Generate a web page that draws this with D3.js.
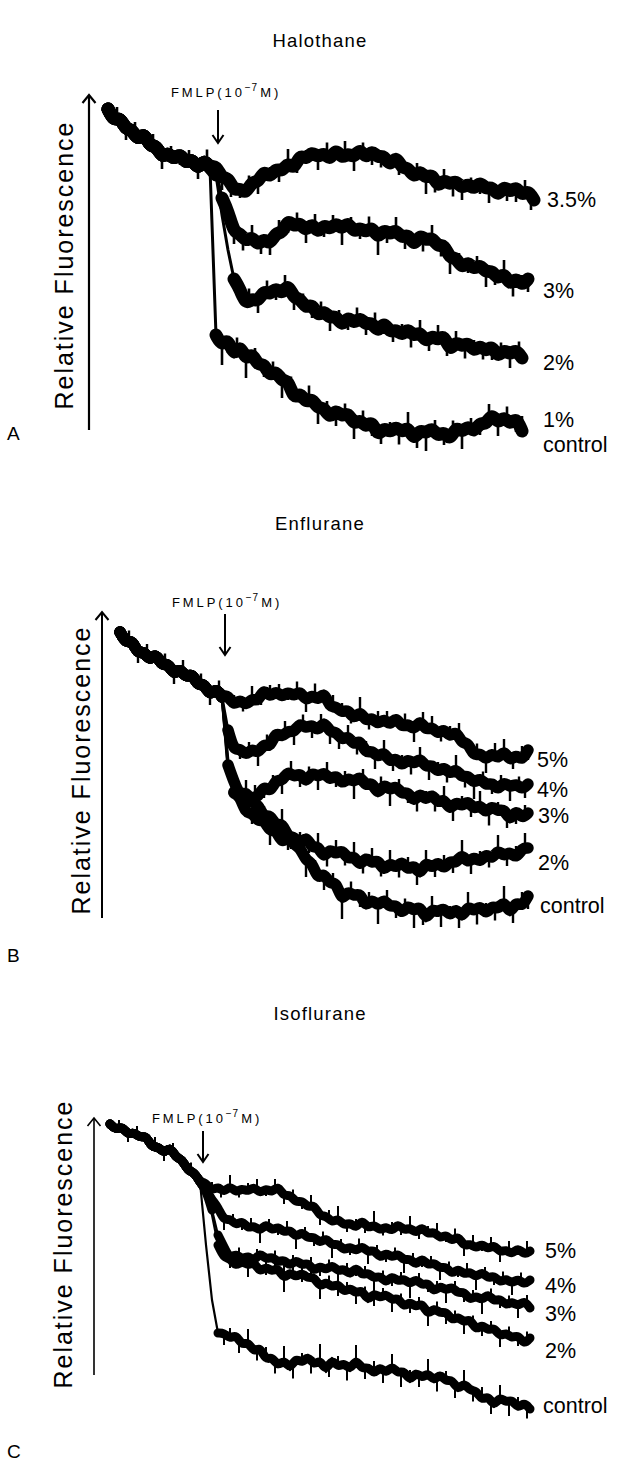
<!DOCTYPE html>
<html><head><meta charset="utf-8">
<script src="https://cdn.jsdelivr.net/npm/d3@7"></script>
<style>
html,body{margin:0;padding:0;background:#fff;}
svg{display:block;}
text{font-family:"Liberation Sans",Arial,Helvetica,sans-serif;fill:#000;}
</style></head>
<body>
<svg id="chart" width="638" height="1466"></svg>
<script>
// ---- DATA (time in sample steps of 6 units; fluorescence in arbitrary units) ----
const STEP = 6;
const panelTitles = ["Halothane", "Enflurane", "Isoflurane"];
const panelLetters = ["A", "B", "C"];
const stimulusLabel = "FMLP(10";
const stimulusExp = "−7";
const stimulusUnit = "M)";

// Halothane (A)
const haloPre = [321,309,313,300,301,289,298,283,285,272,278,270,277,266,272,260,271,262];
const halo35 = [265,251,253,239,242,236,249,247,260,252,262,258,268,260,276,270,279,272,278,269,282,271,277,272,282,271,280,272,275,263,275,261,263,252,260,251,257,242,251,245,250,241,247,240,249,240,244,233,245,237,244,234,240,230];
const halo3 = [260,232,219,197,197,188,194,184,192,185,198,196,211,203,208,198,208,196,206,200,208,200,209,197,203,197,204,191,201,195,201,191,197,183,196,189,193,183,186,171,173,161,169,160,166,157,160,150,158,144,153,144,151];
const halo2 = [255,215,180,151,141,125,132,128,140,135,143,135,147,131,132,121,127,113,120,111,115,103,114,106,113,105,108,97,109,97,101,94,102,93,99,87,95,89,96,78,89,83,88,78,85,78,85,72,81,75,81,72];
const halo1 = [95,84,92,73,86,69,78,64,67,53,60,48,51,30,38,27,32,21,23,11,21,13,18,5,11,2,10,-7,3,-3,4,-3,4,-11,1,-4,3,-7,-1,-11,4,-3,5,-3,8,5,17,6,14,5,13,-1];
const haloLabels = ["3.5%", "3%", "2%", "1%|control"];
// noise spikes: [sample index, excursion]
const haloPreSpikes = [[1.5,12],[3,-10],[4.5,13],[6,-9],[7.5,12],[9,-11],[10.5,10],[12,-12],[13.5,11],[15,-9],[16.5,14]];
const halo35Spikes = [[19,-11],[20.5,-13],[22,-10],[23.5,12],[25,-11],[27,11],[28.5,-12],[30,13],[31.5,-11],[33,10],[35,-12],[36.5,14],[38,-10],[39.5,15],[41,-13],[42.5,11],[44,-15],[45.5,-11],[47,12],[48.5,-13],[50,-10],[51.5,11],[53,-15],[54.5,-12],[56,10],[57.5,-14],[59,-11],[60.5,9],[62,-13],[63.5,-15],[65,11],[66.5,-12],[68,-16],[69.5,13],[70.5,-15]];
const halo3Spikes = [[21,-11],[22.5,-13],[24,11],[25.5,-12],[27,-10],[28.5,13],[30,-14],[31.5,12],[33,-11],[34.5,14],[36,-13],[37.5,11],[39,-15],[40.5,10],[42,-12],[43.5,13],[45,-16],[46.5,-11],[48,12],[49.5,-13],[51,10],[52.5,-14],[54,12],[55.5,-11],[57,-15],[58.5,10],[60,-12],[61.5,11],[63,-14],[64.5,-10],[66,12],[67.5,-15],[69,11],[70,-13]];
const halo2Spikes = [[22,-12],[23.5,13],[25,-11],[26.5,12],[28,-13],[29.5,14],[31,-11],[32.5,10],[34,-15],[35.5,12],[37,-12],[38.5,11],[40,-14],[41.5,13],[43,-10],[44.5,15],[46,-13],[47.5,-11],[49,12],[50.5,-15],[52,11],[53.5,-12],[55,16],[56.5,-13],[58,10],[59.5,-14],[61,12],[62.5,-11],[64,-15],[65.5,11],[67,-13],[68.5,12]];
const halo1Spikes = [[19,-19],[20,-15],[21.5,13],[23,-17],[24.5,11],[26,-14],[27.5,12],[29,-16],[30.5,13],[32,-11],[33.5,15],[35,-15],[36.5,12],[38,-17],[39.5,11],[41,-14],[42.5,13],[44,-16],[45.5,-12],[47,11],[48.5,-15],[50,14],[51.5,-13],[53,-17],[54.5,12],[56,-14],[57.5,13],[59,-16],[60.5,11],[62,-13],[63.5,15],[65,-12],[66.5,14],[68,-15],[69,15]];

// Enflurane (B)
const enfPre = [286,275,278,264,267,257,265,252,255,243,250,240,245,232,235,222,230,221];
const enf5 = [223,212,219,212,220,216,230,220,228,220,227,221,228,216,224,217,227,210,212,205,209,198,208,196,201,193,200,192,202,190,195,187,199,187,192,183,190,180,188,174,176,161,166,157,166,158,169,156,164,157,168];
const enf4 = [188,167,170,162,170,164,175,170,187,180,188,185,196,189,194,186,198,185,187,177,183,172,179,164,168,160,167,155,161,151,160,153,161,150,154,145,152,143,150,140,143,134,141,132,136,127,137,130,135,128,134];
const enf3 = [158,126,122,112,122,120,133,125,139,136,148,140,146,134,147,140,147,137,144,133,141,135,143,131,137,122,135,127,133,123,127,115,126,117,125,114,120,107,117,111,118,108,114,104,113,106,110,96,109,99,105];
const enf2 = [153,136,122,127,115,114,100,104,91,96,80,82,72,83,69,73,59,70,63,69,58,63,51,62,54,59,46,56,49,58,47,54,42,57,49,57,48,58,54,65,54,62,55,65,58,69,61,67,59,70,70];
const enfC = [148,125,122,104,106,96,99,86,89,74,82,73,71,57,56,38,46,33,37,16,28,21,26,10,20,11,20,10,14,3,14,6,13,-3,10,5,11,1,11,-1,13,6,13,3,13,8,18,3,17,11,22];
const enfLabels = ["5%", "4%", "3%", "2%", "control"];
const enfPreSpikes = [[1.5,11],[3,-9],[4.5,12],[6,-10],[7.5,11],[9,-9],[10.5,13],[12,-10],[13.5,11],[15,-9],[16.5,12]];
const enf5Spikes = [[19,11],[20.5,-9],[22,12],[23.5,-10],[25,13],[26.5,10],[28,-9],[29.5,12],[31,-10],[32.5,14],[34,-11],[35.5,12],[37,10],[38.5,-9],[40,13],[41.5,-10],[43,14],[44.5,11],[46,-9],[47.5,12],[49,-11],[50.5,13],[52,10],[53.5,-10],[55,12],[56.5,14],[58,-9],[59.5,11],[61,-12],[62.5,13],[64,10],[65.5,-11],[67,15],[68,-10]];
const enf4Spikes = [[20,-11],[21.5,10],[23,-12],[24.5,11],[26,-10],[27.5,13],[29,-12],[30.5,11],[32,-14],[33.5,12],[35,-11],[36.5,-13],[38,10],[39.5,-12],[41,13],[42.5,-15],[44,11],[45.5,-11],[47,12],[48.5,-13],[50,10],[51.5,-14],[53,11],[54.5,-12],[56,13],[57.5,-11],[59,-15],[60.5,10],[62,-12],[63.5,11],[65,-13],[66.5,10],[67.5,-11]];
const enf3Spikes = [[21,-11],[22.5,12],[24,-13],[25.5,11],[27,-12],[28.5,13],[30,-15],[31.5,11],[33,-12],[34.5,14],[36,-13],[37.5,10],[39,-16],[40.5,12],[42,-11],[43.5,13],[45,-15],[46.5,11],[48,-12],[49.5,-14],[51,10],[52.5,-13],[54,12],[55.5,-15],[57,11],[58.5,-12],[60,13],[61.5,-16],[63,10],[64.5,-13],[66,-15],[67.5,11]];
const enf2Spikes = [[21,11],[22.5,-10],[24,12],[25.5,-11],[27,13],[28.5,-12],[30,14],[31.5,-11],[33,12],[34.5,-13],[36,15],[37.5,-11],[39,13],[40.5,-12],[42,16],[43.5,-11],[45,12],[46.5,-13],[48,14],[49.5,-15],[51,11],[52.5,-12],[54,15],[55.5,-11],[57,13],[58.5,-14],[60,12],[61.5,-11],[63,14],[64.5,-12],[66,13],[67.5,15]];
const enfCSpikes = [[22,-12],[23.5,10],[25,-13],[26.5,11],[28,-14],[29.5,12],[31,-16],[32.5,11],[34,-18],[35.5,10],[37,-17],[38.5,12],[40,-15],[41.5,11],[43,-17],[44.5,13],[46,-14],[47.5,11],[49,-16],[50.5,-12],[52,12],[53.5,-17],[55,11],[56.5,-15],[58,13],[59.5,-16],[61,12],[62.5,-13],[64,14],[65.5,-15],[67,15],[68,-13]];

// Isoflurane (C)
const isoPre = [251,245,249,240,243,237,240,227,229,221,229,217,216,204,203,193];
const iso5 = [192,184,189,182,190,182,187,183,189,181,187,182,190,178,181,172,175,167,171,158,160,152,157,149,153,146,156,146,151,144,149,143,152,144,148,141,149,140,144,136,141,133,140,128,132,126,132,125,131,122,126,120,128,120,124];
const iso4 = [185,175,168,154,157,149,155,146,150,143,152,144,149,142,146,137,144,136,139,131,138,129,132,124,129,123,130,122,126,116,123,117,122,114,117,109,118,109,113,106,109,100,107,100,104,97,104,96,100,92,97,91,97,90,95];
const iso3 = [185,165,140,128,116,122,115,120,113,123,115,119,112,116,108,116,109,113,103,110,104,111,103,107,99,109,99,103,96,100,91,100,93,97,90,97,89,93,82,90,84,89,81,84,74,80,74,82,73,77,69,74,68,75,67];
const iso2 = [185,160,130,117,117,108,115,109,114,102,109,103,108,95,104,97,103,96,99,87,94,87,92,82,88,81,86,73,83,76,82,74,78,67,74,67,73,59,68,61,64,54,59,52,57,44,51,44,48,38,43,36,41,30,37];
const isoC = [130,75,42,42,36,41,29,34,22,29,14,19,8,16,5,18,11,20,9,16,3,17,7,13,4,17,5,9,0,9,1,10,1,5,-7,4,-4,3,-7,2,-7,-4,-16,-7,-16,-15,-26,-20,-32,-21,-28,-24,-34,-27,-34];
const isoLabels = ["5%", "4%", "3%", "2%", "control"];
const isoPreSpikes = [[1.5,8],[3,-7],[4.5,9],[6,-8],[7.5,10],[9,-7],[10.5,9],[12,-8],[13.5,9]];
const iso5Spikes = [[17,9],[18.5,-8],[20,10],[21.5,-7],[23,9],[24.5,11],[26,-8],[27.5,10],[29,-7],[30.5,9],[32,-9],[33.5,11],[35,-8],[36.5,9],[38,12],[39.5,-8],[41,10],[42.5,-9],[44,13],[45.5,-7],[47,10],[48.5,-8],[50,11],[51.5,-9],[53,9],[54.5,12],[56,-8],[57.5,10],[59,-9],[60.5,11],[62,-8],[63.5,10],[65,-9],[66.5,11],[68,-8],[69.5,12]];
const iso4Spikes = [[19,-9],[20.5,8],[22,-10],[23.5,9],[25,-11],[26.5,8],[28,-9],[29.5,10],[31,-11],[32.5,8],[34,-10],[35.5,9],[37,-12],[38.5,8],[40,-9],[41.5,10],[43,-11],[44.5,9],[46,-10],[47.5,8],[49,-12],[50.5,9],[52,-10],[53.5,8],[55,-11],[56.5,9],[58,-9],[59.5,10],[61,-12],[62.5,8],[64,-10],[65.5,9],[67,-11],[68.5,9]];
const iso3Spikes = [[20,-9],[21.5,9],[23,-11],[24.5,8],[26,-10],[27.5,9],[29,-12],[30.5,8],[32,-9],[33.5,10],[35,-11],[36.5,8],[38,-13],[39.5,9],[41,-10],[42.5,8],[44,-12],[45.5,9],[47,-11],[48.5,8],[50,-13],[51.5,9],[53,-10],[54.5,8],[56,-12],[57.5,9],[59,-11],[60.5,8],[62,-13],[63.5,9],[65,-10],[66.5,8],[68,-11],[69.5,9]];
const iso2Spikes = [[20,-10],[21.5,8],[23,-11],[24.5,9],[26,-9],[27.5,8],[29,-12],[30.5,9],[32,-10],[33.5,8],[35,-11],[36.5,9],[38,-13],[39.5,8],[41,-10],[42.5,9],[44,-14],[45.5,8],[47,-11],[48.5,9],[50,-12],[51.5,8],[53,-10],[54.5,9],[56,-13],[57.5,8],[59,-11],[60.5,9],[62,-12],[63.5,8],[65,-10],[66.5,9],[68,-12],[69.5,10]];
const isoCSpikes = [[19,-12],[20,11],[21.5,-13],[23,12],[24.5,-11],[26,14],[27.5,-12],[29,13],[30.5,-15],[32,11],[33.5,-13],[35,15],[36.5,-12],[38,12],[39.5,-14],[41,13],[42.5,-11],[44,14],[45.5,-13],[47,11],[48.5,-15],[50,12],[51.5,-12],[53,13],[54.5,-14],[56,11],[57.5,-13],[59,12],[60.5,-11],[62,14],[63.5,-13],[65,11],[66.5,-15],[68,12],[69.5,-13]];

// ---- LAYOUT ----
const panels = [
  { title: panelTitles[0], letter: panelLetters[0], pre: haloPre, preSpikes: haloPreSpikes,
    series: [halo35, halo3, halo2, halo1], spikes: [halo35Spikes, halo3Spikes, halo2Spikes, halo1Spikes], labels: haloLabels,
    x0: 108, axisX: 89, top: 95, bottom: 430, titleY: 47, letterY: 440,
    yLabelX: 73, yLabelY: 266, stimX: 218, stimY1: 110, stimY2: 143, stimTextX: 171, stimTextY: 97,
    labelX: [547, 543, 543, 543], labelY: [207, 298, 370, 427], band: 13, raw: 3, spikeW: 2.6, axisW: 2.2 },
  { title: panelTitles[1], letter: panelLetters[1], pre: enfPre, preSpikes: enfPreSpikes,
    series: [enf5, enf4, enf3, enf2, enfC], spikes: [enf5Spikes, enf4Spikes, enf3Spikes, enf2Spikes, enfCSpikes], labels: enfLabels,
    x0: 120, axisX: 102, top: 612, bottom: 918, titleY: 530, letterY: 962,
    yLabelX: 90, yLabelY: 771, stimX: 225, stimY1: 614, stimY2: 655, stimTextX: 172, stimTextY: 607,
    labelX: [537, 537, 538, 538, 540], labelY: [767, 797, 823, 870, 913], band: 11.5, raw: 2.8, spikeW: 2.4, axisW: 2 },
  { title: panelTitles[2], letter: panelLetters[2], pre: isoPre, preSpikes: isoPreSpikes,
    series: [iso5, iso4, iso3, iso2, isoC], spikes: [iso5Spikes, iso4Spikes, iso3Spikes, iso2Spikes, isoCSpikes], labels: isoLabels,
    x0: 110, axisX: 94, top: 1118, bottom: 1375, titleY: 1020, letterY: 1458,
    yLabelX: 72, yLabelY: 1245, stimX: 203, stimY1: 1131, stimY2: 1162, stimTextX: 152, stimTextY: 1123,
    labelX: [545, 545, 545, 545, 543], labelY: [1258, 1293, 1321, 1358, 1413], band: 9, raw: 2.2, spikeW: 2, axisW: 1.6 }
];

const svg = d3.select("#chart");

function arrowHead(g, x, y, dir, w, h, sw) {
  g.append("path")
    .attr("d", `M${x - w / 2},${y - dir * h} L${x},${y} L${x + w / 2},${y - dir * h}`)
    .attr("fill", "none").attr("stroke", "#000").attr("stroke-width", sw);
}

const bandLine = d3.line().curve(d3.curveBasis);
const rawLine = d3.line();

panels.forEach(p => {
  const g = svg.append("g");
  const x = d3.scaleLinear().domain([0, 430]).range([p.x0, p.x0 + 430]);
  const y = d3.scaleLinear().domain([0, p.bottom - p.top]).range([p.bottom, p.top]);

  g.append("text").attr("x", 320).attr("y", p.titleY).attr("text-anchor", "middle")
    .attr("font-size", 18.5).attr("letter-spacing", 1.2).text(p.title);

  g.append("text").attr("x", 7).attr("y", p.letterY).attr("font-size", 19).text(p.letter);

  g.append("line").attr("x1", p.axisX).attr("x2", p.axisX).attr("y1", p.bottom).attr("y2", p.top + 1)
    .attr("stroke", "#000").attr("stroke-width", p.axisW);
  arrowHead(g, p.axisX, p.top, -1, 13, 8, p.axisW);

  g.append("text")
    .attr("transform", `translate(${p.yLabelX},${p.yLabelY}) rotate(-90)`)
    .attr("text-anchor", "middle").attr("font-size", 25)
    .attr("textLength", 287).attr("lengthAdjust", "spacing")
    .text("Relative Fluorescence");

  const st = g.append("text").attr("x", p.stimTextX).attr("y", p.stimTextY)
    .attr("font-size", 13).attr("letter-spacing", 2.9);
  st.append("tspan").text(stimulusLabel);
  st.append("tspan").attr("dy", -6).attr("font-size", 10).attr("letter-spacing", 1).text(stimulusExp);
  st.append("tspan").attr("dy", 6).attr("dx", 2).text(stimulusUnit);
  g.append("line").attr("x1", p.stimX).attr("x2", p.stimX).attr("y1", p.stimY1).attr("y2", p.stimY2)
    .attr("stroke", "#000").attr("stroke-width", 2);
  arrowHead(g, p.stimX, p.stimY2, 1, 11, 8, 2);

  p.series.forEach((post, si) => {
    const vals = p.pre.concat(post);
    const pts = vals.map((v, i) => [x(i * STEP), y(v)]);
    const runs = [];
    let cur = [pts[0]];
    for (let i = 1; i < pts.length; i++) {
      if (Math.abs(pts[i][1] - pts[i - 1][1]) > 22) {
        if (cur.length > 1) runs.push(cur);
        cur = [pts[i]];
      } else cur.push(pts[i]);
    }
    if (cur.length > 1) runs.push(cur);

    g.append("g").selectAll("path").data(runs).join("path")
      .attr("d", bandLine)
      .attr("fill", "none").attr("stroke", "#000")
      .attr("stroke-width", p.band).attr("stroke-linecap", "round").attr("stroke-linejoin", "round");

    g.append("path").attr("d", rawLine(pts))
      .attr("fill", "none").attr("stroke", "#000")
      .attr("stroke-width", p.raw).attr("stroke-linejoin", "round").attr("stroke-linecap", "round");

    const valueAt = idx => {
      const i0 = Math.floor(idx), i1 = Math.min(vals.length - 1, i0 + 1), f = idx - i0;
      return vals[i0] * (1 - f) + vals[i1] * f;
    };
    const spikes = (si === 0 ? p.preSpikes : []).concat(p.spikes[si]);
    g.append("g").selectAll("line").data(spikes).join("line")
      .attr("x1", d => x(d[0] * STEP)).attr("x2", d => x(d[0] * STEP))
      .attr("y1", d => y(valueAt(d[0]))).attr("y2", d => y(valueAt(d[0]) + d[1]))
      .attr("stroke", "#000").attr("stroke-width", p.spikeW);

    const parts = p.labels[si].split("|");
    parts.forEach((t, k) => {
      g.append("text").attr("x", p.labelX[si]).attr("y", p.labelY[si] + k * 25)
        .attr("font-size", 21.5).text(t);
    });
  });
});
</script>
</body></html>
